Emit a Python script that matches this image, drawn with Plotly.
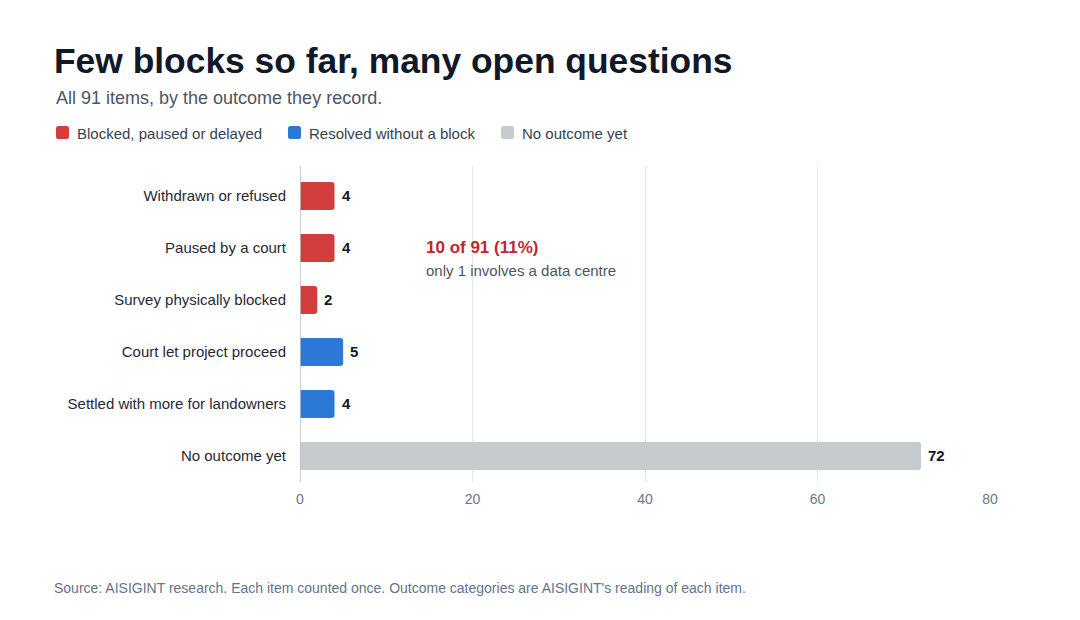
import plotly.graph_objects as go

categories = ["Withdrawn or refused", "Paused by a court", "Survey physically blocked",
              "Court let project proceed", "Settled with more for landowners", "No outcome yet"]
values = [4, 4, 2, 5, 4, 72]
groups = ["blocked", "blocked", "blocked", "resolved", "resolved", "none"]
group_labels = {"blocked": "Blocked, paused or delayed",
                "resolved": "Resolved without a block",
                "none": "No outcome yet"}
group_colors = {"blocked": "#d43d3d", "resolved": "#2b78d6", "none": "#c6cbcf"}
x_ticks = [0, 20, 40, 60, 80]

W, H = 1080, 620
L, R, T, B = 300, 90, 166, 138
PW, PH = W - L - R, H - T - B

def px(x):
    return (x - L - 2) / PW

def py(y):
    return (H - B - y) / PH

def ppx(x):
    return (x - L) / PW

FONT = "Liberation Sans, Arial, sans-serif"

fig = go.Figure()
fig.add_trace(go.Bar(
    y=categories, x=values, orientation="h",
    marker=dict(color=[group_colors[g] for g in groups], line=dict(width=0)),
    width=0.54, showlegend=False, hoverinfo="skip",
))

annotations = []
for c, v in zip(categories, values):
    annotations.append(dict(x=v, y=c, xref="x", yref="y", text=f"<b>{v}</b>",
                            showarrow=False, xanchor="left", yanchor="middle", xshift=5, yshift=1,
                            font=dict(family=FONT, size=15, color="#111827")))

annotations += [
    dict(x=px(54), y=py(61), xref="paper", yref="paper", text="<b>Few blocks so far, many open questions</b>",
         showarrow=False, xanchor="left", yanchor="middle", font=dict(family=FONT, size=35.4, color="#111827")),
    dict(x=px(56), y=py(98), xref="paper", yref="paper", text="All 91 items, by the outcome they record.",
         showarrow=False, xanchor="left", yanchor="middle", font=dict(family=FONT, size=18, color="#4b5563")),
    dict(x=px(54), y=py(588), xref="paper", yref="paper",
         text="Source: AISIGINT research. Each item counted once. Outcome categories are AISIGINT's reading of each item.",
         showarrow=False, xanchor="left", yanchor="middle", font=dict(family=FONT, size=14, color="#64748b")),
    dict(x=px(426), y=py(247), xref="paper", yref="paper", text="<b>10 of 91 (11%)</b>",
         showarrow=False, xanchor="left", yanchor="middle", font=dict(family=FONT, size=17, color="#c0262d")),
    dict(x=px(426), y=py(270), xref="paper", yref="paper", text="only 1 involves a data centre",
         showarrow=False, xanchor="left", yanchor="middle", font=dict(family=FONT, size=15, color="#4b5563")),
]

def rounded_rect(x0, y0, x1, y1, r):
    # pixel coords -> paper path
    X = lambda v: ppx(v)
    Y = lambda v: py(v)
    return (f"M {X(x0 + r)},{Y(y0)} L {X(x1 - r)},{Y(y0)} Q {X(x1)},{Y(y0)} {X(x1)},{Y(y0 + r)} "
            f"L {X(x1)},{Y(y1 - r)} Q {X(x1)},{Y(y1)} {X(x1 - r)},{Y(y1)} "
            f"L {X(x0 + r)},{Y(y1)} Q {X(x0)},{Y(y1)} {X(x0)},{Y(y1 - r)} "
            f"L {X(x0)},{Y(y0 + r)} Q {X(x0)},{Y(y0)} {X(x0 + r)},{Y(y0)} Z")

shapes = []
legend_x = [56, 288, 501]
for lx, g in zip(legend_x, ["blocked", "resolved", "none"]):
    shapes.append(dict(type="path", xref="paper", yref="paper",
                       path=rounded_rect(lx, 126, lx + 13, 139, 2.5),
                       fillcolor=group_colors[g], line=dict(width=0)))
    annotations.append(dict(x=px(lx + 21), y=py(133), xref="paper", yref="paper", text=group_labels[g],
                            showarrow=False, xanchor="left", yanchor="middle",
                            font=dict(family=FONT, size=15, color="#374151")))

shapes.append(dict(type="line", xref="x", yref="paper", x0=0, x1=0, y0=0, y1=1,
                   line=dict(color="#b8c0cc", width=1.5), layer="above"))

fig.update_layout(
    width=W, height=H,
    margin=dict(l=L, r=R, t=T, b=B),
    paper_bgcolor="white", plot_bgcolor="white",
    barcornerradius=3,
    annotations=annotations, shapes=shapes,
    font=dict(family=FONT),
    xaxis=dict(range=[0, 80], tickvals=x_ticks, showgrid=True, gridcolor="#e5e7eb", gridwidth=1,
               zeroline=False, showline=False, ticks="", tickfont=dict(size=14, color="#6b7785"),
               ticklabelstandoff=7, fixedrange=True),
    yaxis=dict(categoryorder="array", categoryarray=categories, range=[5.5, -0.577],
               showgrid=False, zeroline=False, showline=False, ticks="",
               tickfont=dict(size=15, color="#1f2937"), ticklabelstandoff=13, fixedrange=True),
)

fig.write_html("out.html")
